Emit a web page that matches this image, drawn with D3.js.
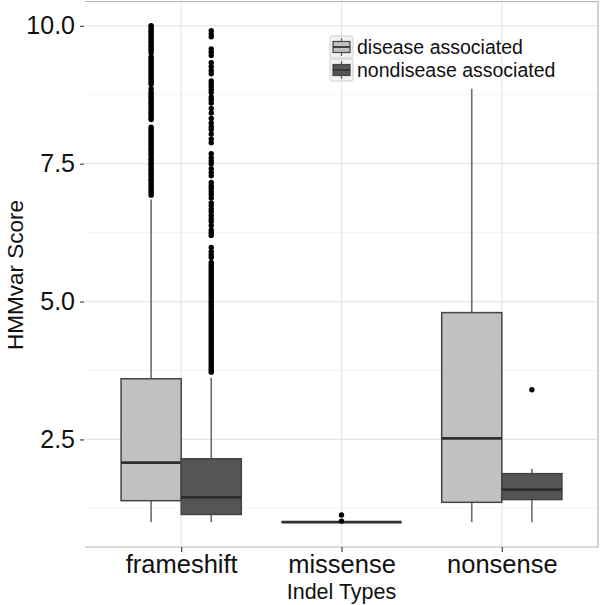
<!DOCTYPE html>
<html>
<head>
<meta charset="utf-8">
<script src="https://cdn.jsdelivr.net/npm/d3@7"></script>
<style>
  body { margin: 0; background: #fff; }
  svg { display: block; font-family: "Liberation Sans", Arial, sans-serif; }
</style>
</head>
<body>
<svg id="chart" width="600" height="605"></svg>
<script>
// ---------- data ----------
const categories = ["frameshift", "missense", "nonsense"];
const groups = ["disease associated", "nondisease associated"];
const groupFill = ["#c1c1c1", "#555555"];

// box statistics (one entry per box)
const boxCategory = ["frameshift", "frameshift", "missense", "nonsense", "nonsense"];
const boxGroup    = ["disease associated", "nondisease associated", "disease associated", "disease associated", "nondisease associated"];
const boxLower    = [1.0, 1.0, 1.0, 1.0, 1.0];
const boxQ1       = [1.39, 1.14, 1.0, 1.36, 1.41];
const boxMedian   = [2.08, 1.45, 1.0, 2.52, 1.59];
const boxQ3       = [3.60, 2.15, 1.0, 4.80, 1.88];
const boxUpper    = [6.85, 3.62, 1.0, 8.86, 1.97];

// outliers
const fsDiseaseOutliers = [10.0, 9.97, 9.93, 9.9, 9.87, 9.83, 9.79, 9.76, 9.72, 9.69, 9.65, 9.62, 9.58, 9.55, 9.51,
  9.44, 9.41, 9.37, 9.34, 9.3, 9.27, 9.23, 9.19, 9.16, 9.12, 9.09, 9.05, 9.01, 8.97, 8.94, 8.86, 8.8, 8.77, 8.73,
  8.7, 8.66, 8.62, 8.59, 8.55, 8.51, 8.48, 8.44, 8.41, 8.37, 8.33, 8.3, 8.16, 8.12, 8.09, 8.05, 8.02, 7.98, 7.94,
  7.91, 7.87, 7.84, 7.8, 7.76, 7.73, 7.69, 7.66, 7.62, 7.58, 7.55, 7.51, 7.48, 7.44, 7.4, 7.37, 7.33, 7.3, 7.26,
  7.22, 7.19, 7.15, 7.12, 7.08, 7.04, 7.01, 6.97, 6.93];
const fsNondiseaseOutliers = [9.91, 9.85, 9.8, 9.58, 9.52, 9.46, 9.33, 9.26, 9.19, 9.13, 9.0, 8.95, 8.9, 8.84, 8.79,
  8.71, 8.66, 8.6, 8.5, 8.42, 8.32, 8.24, 8.17, 8.12, 8.04, 7.95, 7.88, 7.68, 7.61, 7.55, 7.5, 7.41, 7.34, 7.28,
  7.16, 7.1, 7.05, 6.99, 6.94, 6.88, 6.79, 6.74, 6.68, 6.63, 6.56, 6.5, 6.45, 6.38, 6.3, 6.25, 6.2, 5.98, 5.91,
  5.85, 5.8, 5.71, 5.67, 5.63, 5.59, 5.55, 5.51, 5.47, 5.43, 5.39, 5.35, 5.31, 5.27, 5.23, 5.19, 5.15, 5.11, 5.07,
  5.03, 4.99, 4.95, 4.91, 4.87, 4.83, 4.79, 4.75, 4.71, 4.67, 4.63, 4.59, 4.55, 4.51, 4.47, 4.43, 4.39, 4.35, 4.31,
  4.27, 4.23, 4.19, 4.15, 4.11, 4.07, 4.03, 3.99, 3.95, 3.91, 3.87, 3.83, 3.79, 3.75, 3.72];
const missenseOutliers = [1.13, 1.02];
const nsNondiseaseOutliers = [3.40];

const yTicks = [2.5, 5.0, 7.5, 10.0];
const yMinor = [1.25, 3.75, 6.25, 8.75];
const xTitle = "Indel Types";
const yTitle = "HMMvar Score";

// ---------- layout ----------
const svg = d3.select("#chart");
const P = { left: 85, right: 598, top: 1, bottom: 547 };
const FONT = "'Liberation Sans', Arial, sans-serif";

const x = d3.scalePoint().domain(categories).range([P.left, P.right]).padding(0.6);
const y = d3.scaleLinear().domain([0.55, 10.45]).range([P.bottom, P.top]);
const step = x.step();
const fill = d3.scaleOrdinal().domain(groups).range(groupFill);

// grid
const g = svg.append("g");
g.selectAll(".minor").data(yMinor).join("line")
  .attr("x1", P.left).attr("x2", P.right)
  .attr("y1", d => y(d)).attr("y2", d => y(d))
  .attr("stroke", "#f3f3f3").attr("stroke-width", 1);
g.selectAll(".major").data(yTicks).join("line")
  .attr("x1", P.left).attr("x2", P.right)
  .attr("y1", d => y(d)).attr("y2", d => y(d))
  .attr("stroke", "#e6e6e6").attr("stroke-width", 1.2);
g.selectAll(".vmajor").data(categories).join("line")
  .attr("x1", d => x(d)).attr("x2", d => x(d))
  .attr("y1", P.top).attr("y2", P.bottom)
  .attr("stroke", "#e6e6e6").attr("stroke-width", 1.2);

// boxes
const boxes = boxCategory.map((c, i) => {
  const n = boxCategory.filter(d => d === c).length;
  const w = 0.75 * step / n;
  const k = boxCategory.slice(0, i).filter(d => d === c).length;
  const left = x(c) - 0.75 * step / 2 + k * w;
  return { c, grp: boxGroup[i], left, w, cx: left + w / 2,
    lo: boxLower[i], q1: boxQ1[i], med: boxMedian[i], q3: boxQ3[i], hi: boxUpper[i] };
});

const bg = svg.append("g");
boxes.forEach(b => {
  bg.append("line").attr("x1", b.cx).attr("x2", b.cx)
    .attr("y1", y(b.q3)).attr("y2", y(b.hi))
    .attr("stroke", "#6e6e6e").attr("stroke-width", 1.6);
  bg.append("line").attr("x1", b.cx).attr("x2", b.cx)
    .attr("y1", y(b.q1)).attr("y2", y(b.lo))
    .attr("stroke", "#6e6e6e").attr("stroke-width", 1.6);
  bg.append("rect").attr("x", b.left).attr("width", b.w)
    .attr("y", y(b.q3)).attr("height", Math.max(0, y(b.q1) - y(b.q3)))
    .attr("fill", fill(b.grp)).attr("stroke", "#444").attr("stroke-width", 1.5);
  bg.append("line").attr("x1", b.left).attr("x2", b.left + b.w)
    .attr("y1", y(b.med)).attr("y2", y(b.med))
    .attr("stroke", "#2e2e2e").attr("stroke-width", 2.8);
});

// outliers
function boxFor(c, grp) { return boxes.find(b => b.c === c && b.grp === grp); }
const outlierSets = [
  [boxFor("frameshift", groups[0]), fsDiseaseOutliers],
  [boxFor("frameshift", groups[1]), fsNondiseaseOutliers],
  [boxFor("missense", groups[0]), missenseOutliers],
  [boxFor("nonsense", groups[1]), nsNondiseaseOutliers]
];
const og = svg.append("g");
outlierSets.forEach(([b, vals]) => {
  og.selectAll(null).data(vals).join("circle")
    .attr("cx", b.cx).attr("cy", d => y(d)).attr("r", 2.7)
    .attr("fill", "#000");
});

// panel border (top, right, bottom)
svg.append("path")
  .attr("d", `M${P.left},${P.top + 0.5}H${P.right}V${P.bottom}H${P.left}`)
  .attr("fill", "none").attr("stroke", "#b5b5b5").attr("stroke-width", 1.2);

// y axis
const yAxis = svg.append("g").attr("transform", `translate(${P.left - 1},0)`)
  .call(d3.axisLeft(y).tickValues(yTicks).tickFormat(d3.format(".1f")).tickSize(4).tickPadding(5));
yAxis.select(".domain").remove();
yAxis.selectAll(".tick line").attr("stroke", "#444").attr("stroke-width", 1.2);
yAxis.selectAll(".tick text").attr("fill", "#111").style("font-size", "25px")
  .style("font-family", FONT);

// x axis
const xAxis = svg.append("g").attr("transform", `translate(0,${P.bottom})`)
  .call(d3.axisBottom(x).tickSize(5).tickPadding(3));
xAxis.select(".domain").remove();
xAxis.selectAll(".tick line").attr("stroke", "#444").attr("stroke-width", 1.2);
xAxis.selectAll(".tick text").attr("fill", "#111").style("font-size", "25.5px")
  .style("font-family", FONT);

// axis titles
svg.append("text").attr("x", (P.left + P.right) / 2).attr("y", 599)
  .attr("text-anchor", "middle").style("font-size", "21.5px").attr("fill", "#111")
  .text(xTitle);
svg.append("text").attr("transform", "translate(23,275) rotate(-90)")
  .attr("text-anchor", "middle").style("font-size", "22.5px").attr("fill", "#111")
  .text(yTitle);

// legend
const lg = svg.append("g").attr("transform", "translate(330,36)");
groups.forEach((grp, i) => {
  const row = lg.append("g").attr("transform", `translate(0,${i * 23})`);
  row.append("rect").attr("x", 0).attr("y", 0).attr("width", 23).attr("height", 22)
    .attr("fill", "#f2f2f2").attr("stroke", "#cfcfcf").attr("stroke-width", 1).attr("rx", 1.5);
  row.append("line").attr("x1", 11.5).attr("x2", 11.5).attr("y1", 2).attr("y2", 20)
    .attr("stroke", "#666").attr("stroke-width", 1.3);
  row.append("rect").attr("x", 3).attr("y", 5.5).attr("width", 17).attr("height", 11)
    .attr("fill", fill(grp)).attr("stroke", "#444").attr("stroke-width", 1.2);
  row.append("line").attr("x1", 3).attr("x2", 20).attr("y1", 11).attr("y2", 11)
    .attr("stroke", "#333").attr("stroke-width", 1.8);
  row.append("text").attr("x", 27).attr("y", 11).attr("dy", "0.36em")
    .style("font-size", "19.5px").attr("fill", "#111").text(grp);
});
</script>
</body>
</html>
